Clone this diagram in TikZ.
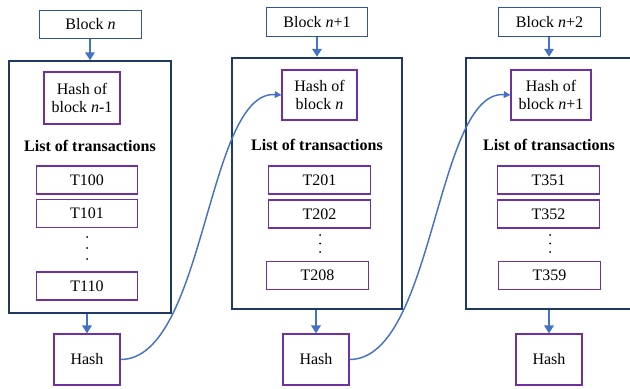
\documentclass[tikz,border=0pt]{standalone}
\usepackage{fontspec}
\setmainfont{Liberation Serif}
\usepackage{tikz}
\usetikzlibrary{arrows.meta,positioning}

\definecolor{topline}{HTML}{2F5597}
\definecolor{blkline}{HTML}{1F3864}
\definecolor{txline}{HTML}{7030A0}
\definecolor{arrblue}{HTML}{4472C4}

\tikzset{
  headbox/.style={draw=topline,line width=0.8pt,minimum width=76pt,minimum height=21.5pt,inner sep=0pt},
  blockbox/.style={draw=blkline,line width=1.5pt,minimum height=188.5pt},
  hashbox/.style={draw=txline,line width=0.8pt,align=center,inner sep=0pt},
  txbox/.style={draw=txline,line width=0.8pt,minimum width=76pt,minimum height=21pt,inner sep=0pt},
  listlabel/.style={inner sep=0pt,font=\fontsize{12}{13.5}\selectfont\bfseries},
  downarrow/.style={-{Triangle[length=6pt,width=7pt]},arrblue,line width=2.2pt},
  linkarrow/.style={-{Triangle[length=5pt,width=5pt]},arrblue,line width=1.1pt},
}

\begin{document}
\begin{tikzpicture}[x=0.75pt,y=-0.75pt,font=\fontsize{12}{13.5}\selectfont]
\clip (0,0) rectangle (630,388);

% Block n
\node[headbox] (head1) at (90.5,24.5) {Block \textit{n}};
\node[blockbox,minimum width=121.5pt] (blk1) at (90,187) {};
\node[hashbox,minimum width=57pt,minimum height=39pt] (prev1) at (82,98) {Hash of\\block \textit{n}-1};
\node[listlabel] (list1) at (90,146) {List of transactions};
\node[txbox] (t100) at (87,180) {T100};
\node[txbox] (t101) at (87,213.5) {T101};
\foreach \y in {237,248,259} \fill (87,\y) circle (0.75pt);
\node[txbox] (t110) at (87,286) {T110};
\node[hashbox,minimum width=49.5pt,minimum height=38.25pt] (hash1) at (87,359.5) {Hash};
\draw[downarrow] (head1.south -| blk1.north) -- (blk1.north);
\draw[downarrow] (hash1.north |- blk1.south) -- (hash1.north);

% Block n+1
\node[headbox] (head2) at (317,22) {Block \textit{n}+1};
\node[blockbox,minimum width=127.5pt] (blk2) at (317,183.5) {};
\node[hashbox,minimum width=56.25pt,minimum height=37.5pt] (prev2) at (319.5,95) {Hash of\\block \textit{n}};
\node[listlabel] (list2) at (317,145) {List of transactions};
\node[txbox] (t201) at (319.5,180) {T201};
\node[txbox] (t202) at (319.5,214) {T202};
\foreach \y in {235,243.5,252} \fill (320,\y) circle (0.75pt);
\node[txbox] (t208) at (317.5,275.5) {T208};
\node[hashbox,minimum width=49.5pt,minimum height=38.25pt] (hash2) at (316,359.5) {Hash};
\draw[downarrow] (head2.south -| blk2.north) -- (blk2.north);
\draw[downarrow] (hash2.north |- blk2.south) -- (hash2.north);

% Block n+2
\node[headbox] (head3) at (549.5,22) {Block \textit{n}+2};
\node[blockbox,minimum width=124.5pt] (blk3) at (549,183.5) {};
\node[hashbox,minimum width=60pt,minimum height=37.5pt] (prev3) at (551,95) {Hash of\\block \textit{n}+1};
\node[listlabel] (list3) at (549,145) {List of transactions};
\node[txbox] (t351) at (548.5,180) {T351};
\node[txbox] (t352) at (548.5,214) {T352};
\foreach \y in {235,243.5,252} \fill (550,\y) circle (0.75pt);
\node[txbox] (t359) at (549.5,275.5) {T359};
\node[hashbox,minimum width=49.5pt,minimum height=38.25pt] (hash3) at (549,359.5) {Hash};
\draw[downarrow] (head3.south -| blk3.north) -- (blk3.north);
\draw[downarrow] (hash3.north |- blk3.south) -- (hash3.north);

% Links between blocks
\draw[linkarrow] (hash1.east) .. controls +(85,0) and +(-75,-5) .. (prev2.west);
\draw[linkarrow] (hash2.east) .. controls +(85,0) and +(-75,-5) .. (prev3.west);

\end{tikzpicture}
\end{document}
